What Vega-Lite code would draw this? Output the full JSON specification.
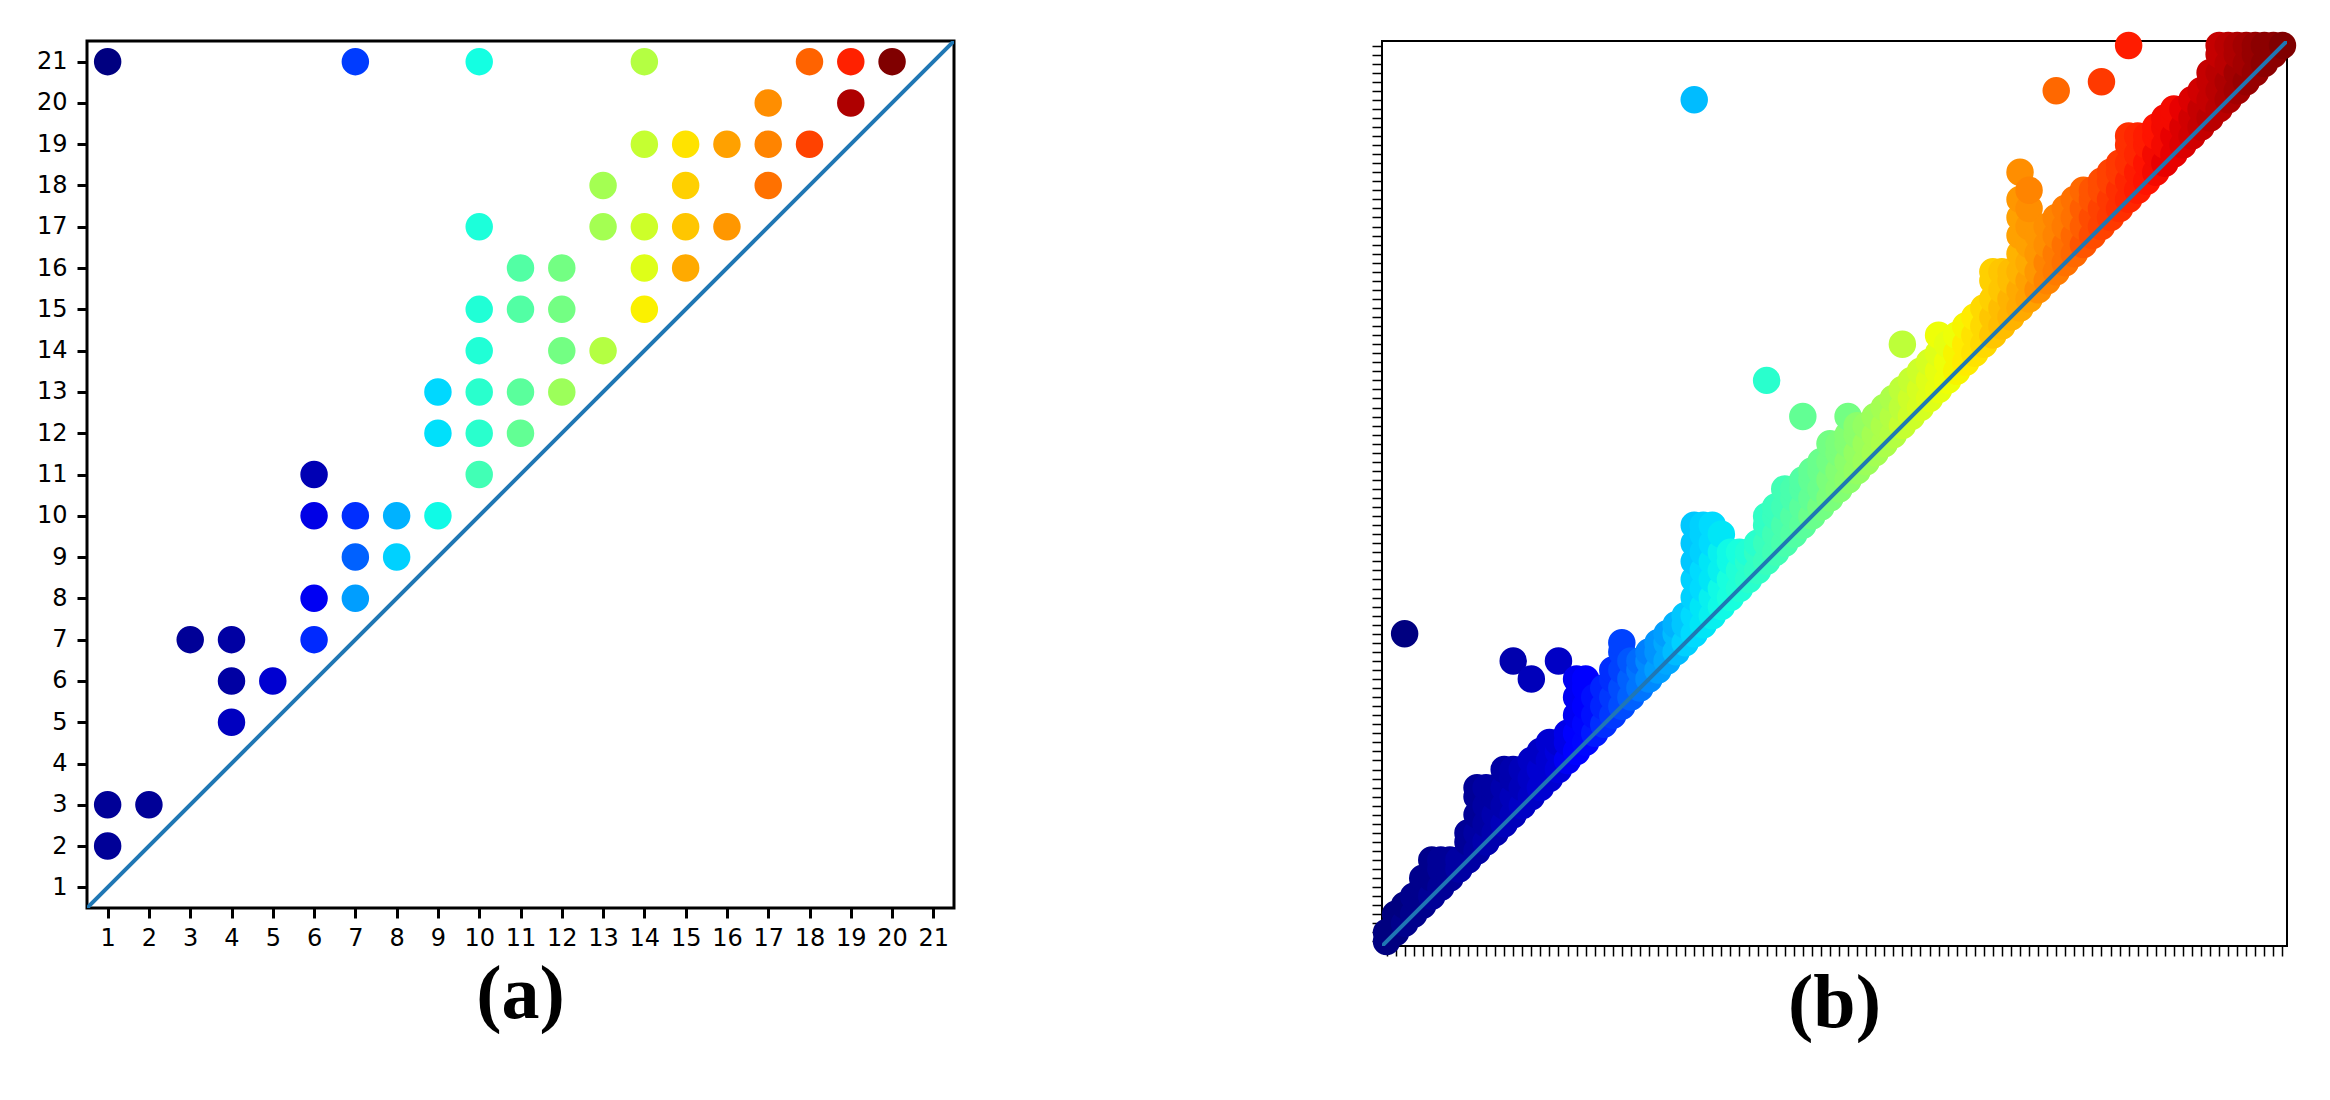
{
"$schema": "https://vega.github.io/schema/vega-lite/v6.json",
"background": "white",
"padding": {"left": 34, "top": 30, "right": 0, "bottom": 0},
"spacing": 414,
"config": {"view": {"stroke": "black"}, "axis": {"labelFont": "DejaVu Sans", "labelColor": "black", "tickColor": "black", "grid": false, "domain": false, "title": null}},
"datasets": {
"a": [
{"x":1,"y":21,"c":0},{"x":1,"y":3,"c":0.02},{"x":1,"y":2,"c":0.02},{"x":2,"y":3,"c":0.02},{"x":3,"y":7,"c":0.02},{"x":4,"y":7,"c":0.03},{"x":4,"y":6,"c":0.03},{"x":4,"y":5,"c":0.055},{"x":5,"y":6,"c":0.07},
{"x":6,"y":11,"c":0.045},{"x":6,"y":10,"c":0.088},{"x":6,"y":8,"c":0.1},{"x":6,"y":7,"c":0.165},{"x":7,"y":21,"c":0.184},{"x":7,"y":10,"c":0.17},{"x":7,"y":9,"c":0.22},{"x":7,"y":8,"c":0.28},
{"x":8,"y":10,"c":0.3},{"x":8,"y":9,"c":0.33},{"x":9,"y":13,"c":0.337},{"x":9,"y":12,"c":0.345},{"x":9,"y":10,"c":0.37},
{"x":10,"y":21,"c":0.375},{"x":10,"y":17,"c":0.385},{"x":10,"y":15,"c":0.39},{"x":10,"y":14,"c":0.39},{"x":10,"y":13,"c":0.4},{"x":10,"y":12,"c":0.4},{"x":10,"y":11,"c":0.43},
{"x":11,"y":16,"c":0.45},{"x":11,"y":15,"c":0.45},{"x":11,"y":13,"c":0.46},{"x":11,"y":12,"c":0.47},
{"x":12,"y":16,"c":0.49},{"x":12,"y":15,"c":0.49},{"x":12,"y":14,"c":0.49},{"x":12,"y":13,"c":0.54},
{"x":13,"y":18,"c":0.55},{"x":13,"y":17,"c":0.55},{"x":13,"y":14,"c":0.57},
{"x":14,"y":21,"c":0.57},{"x":14,"y":19,"c":0.59},{"x":14,"y":17,"c":0.6},{"x":14,"y":16,"c":0.62},{"x":14,"y":15,"c":0.655},
{"x":15,"y":19,"c":0.67},{"x":15,"y":18,"c":0.69},{"x":15,"y":17,"c":0.7},{"x":15,"y":16,"c":0.73},
{"x":16,"y":19,"c":0.74},{"x":16,"y":17,"c":0.75},{"x":17,"y":20,"c":0.76},{"x":17,"y":19,"c":0.77},{"x":17,"y":18,"c":0.79},
{"x":18,"y":21,"c":0.805},{"x":18,"y":19,"c":0.84},{"x":19,"y":21,"c":0.875},{"x":19,"y":20,"c":0.96},{"x":20,"y":21,"c":1}
],
"b": [
{"x":1,"y":1,"c":0},{"x":1,"y":2,"c":0},
{"x":2,"y":2,"c":0},{"x":2,"y":4,"c":0},
{"x":3,"y":3,"c":0.01},{"x":3,"y":5,"c":0},{"x":3,"y":35,"c":0},
{"x":4,"y":4,"c":0.01},{"x":4,"y":6,"c":0.01},
{"x":5,"y":5,"c":0.01},{"x":5,"y":7,"c":0.01},{"x":5,"y":8,"c":0.01},
{"x":6,"y":6,"c":0.02},{"x":6,"y":8,"c":0.01},{"x":6,"y":10,"c":0.01},
{"x":7,"y":7,"c":0.02},{"x":7,"y":9,"c":0.02},{"x":7,"y":10,"c":0.02},
{"x":8,"y":8,"c":0.02},{"x":8,"y":10,"c":0.02},
{"x":9,"y":9,"c":0.03},{"x":9,"y":10,"c":0.03},
{"x":10,"y":10,"c":0.03},{"x":10,"y":12,"c":0.02},{"x":10,"y":13,"c":0.02},
{"x":11,"y":11,"c":0.03},{"x":11,"y":13,"c":0.03},{"x":11,"y":15,"c":0.02},{"x":11,"y":17,"c":0.02},{"x":11,"y":18,"c":0.02},
{"x":12,"y":12,"c":0.04},{"x":12,"y":14,"c":0.03},{"x":12,"y":16,"c":0.03},{"x":12,"y":18,"c":0.03},
{"x":13,"y":13,"c":0.04},{"x":13,"y":15,"c":0.04},{"x":13,"y":17,"c":0.03},{"x":13,"y":18,"c":0.03},
{"x":14,"y":14,"c":0.05},{"x":14,"y":16,"c":0.04},{"x":14,"y":18,"c":0.04},{"x":14,"y":20,"c":0.03},
{"x":15,"y":15,"c":0.05},{"x":15,"y":17,"c":0.05},{"x":15,"y":19,"c":0.04},{"x":15,"y":20,"c":0.04},{"x":15,"y":32,"c":0.04},
{"x":16,"y":16,"c":0.06},{"x":16,"y":18,"c":0.05},{"x":16,"y":20,"c":0.05},
{"x":17,"y":17,"c":0.06},{"x":17,"y":19,"c":0.06},{"x":17,"y":21,"c":0.06},{"x":17,"y":30,"c":0.05},
{"x":18,"y":18,"c":0.07},{"x":18,"y":20,"c":0.07},{"x":18,"y":22,"c":0.06},
{"x":19,"y":19,"c":0.07},{"x":19,"y":21,"c":0.07},{"x":19,"y":23,"c":0.07},
{"x":20,"y":20,"c":0.08},{"x":20,"y":22,"c":0.08},{"x":20,"y":23,"c":0.07},{"x":20,"y":32,"c":0.06},
{"x":21,"y":21,"c":0.1},{"x":21,"y":23,"c":0.09},{"x":21,"y":24,"c":0.09},
{"x":22,"y":22,"c":0.11},{"x":22,"y":24,"c":0.11},{"x":22,"y":26,"c":0.1},{"x":22,"y":28,"c":0.1},{"x":22,"y":30,"c":0.1},
{"x":23,"y":23,"c":0.13},{"x":23,"y":25,"c":0.13},{"x":23,"y":27,"c":0.12},{"x":23,"y":29,"c":0.12},{"x":23,"y":30,"c":0.12},
{"x":24,"y":24,"c":0.15},{"x":24,"y":26,"c":0.14},{"x":24,"y":28,"c":0.14},
{"x":25,"y":25,"c":0.17},{"x":25,"y":27,"c":0.16},{"x":25,"y":29,"c":0.16},
{"x":26,"y":26,"c":0.18},{"x":26,"y":28,"c":0.18},{"x":26,"y":30,"c":0.17},{"x":26,"y":31,"c":0.17},
{"x":27,"y":27,"c":0.2},{"x":27,"y":29,"c":0.2},{"x":27,"y":31,"c":0.19},{"x":27,"y":33,"c":0.19},{"x":27,"y":34,"c":0.19},
{"x":28,"y":28,"c":0.22},{"x":28,"y":30,"c":0.22},{"x":28,"y":32,"c":0.21},
{"x":29,"y":29,"c":0.24},{"x":29,"y":31,"c":0.24},{"x":29,"y":32,"c":0.23},
{"x":30,"y":30,"c":0.26},{"x":30,"y":32,"c":0.26},{"x":30,"y":33,"c":0.25},
{"x":31,"y":31,"c":0.28},{"x":31,"y":33,"c":0.27},{"x":31,"y":34,"c":0.27},
{"x":32,"y":32,"c":0.29},{"x":32,"y":34,"c":0.29},{"x":32,"y":35,"c":0.28},
{"x":33,"y":33,"c":0.31},{"x":33,"y":35,"c":0.31},{"x":33,"y":36,"c":0.3},
{"x":34,"y":34,"c":0.33},{"x":34,"y":36,"c":0.32},{"x":34,"y":37,"c":0.32},
{"x":35,"y":35,"c":0.34},{"x":35,"y":37,"c":0.34},{"x":35,"y":39,"c":0.33},{"x":35,"y":41,"c":0.33},{"x":35,"y":43,"c":0.32},{"x":35,"y":45,"c":0.32},{"x":35,"y":47,"c":0.32},{"x":35,"y":94,"c":0.31},
{"x":36,"y":36,"c":0.35},{"x":36,"y":38,"c":0.35},{"x":36,"y":40,"c":0.34},{"x":36,"y":42,"c":0.34},{"x":36,"y":44,"c":0.33},{"x":36,"y":46,"c":0.33},{"x":36,"y":47,"c":0.33},
{"x":37,"y":37,"c":0.36},{"x":37,"y":39,"c":0.36},{"x":37,"y":41,"c":0.35},{"x":37,"y":43,"c":0.35},{"x":37,"y":45,"c":0.34},{"x":37,"y":47,"c":0.34},
{"x":38,"y":38,"c":0.37},{"x":38,"y":40,"c":0.37},{"x":38,"y":42,"c":0.36},{"x":38,"y":44,"c":0.36},{"x":38,"y":46,"c":0.35},
{"x":39,"y":39,"c":0.38},{"x":39,"y":41,"c":0.38},{"x":39,"y":43,"c":0.37},{"x":39,"y":44,"c":0.37},
{"x":40,"y":40,"c":0.39},{"x":40,"y":42,"c":0.39},{"x":40,"y":44,"c":0.38},
{"x":41,"y":41,"c":0.4},{"x":41,"y":43,"c":0.4},{"x":41,"y":44,"c":0.39},
{"x":42,"y":42,"c":0.41},{"x":42,"y":44,"c":0.41},{"x":42,"y":45,"c":0.4},
{"x":43,"y":43,"c":0.42},{"x":43,"y":45,"c":0.42},{"x":43,"y":47,"c":0.41},{"x":43,"y":48,"c":0.41},{"x":43,"y":63,"c":0.4},
{"x":44,"y":44,"c":0.43},{"x":44,"y":46,"c":0.43},{"x":44,"y":48,"c":0.42},{"x":44,"y":49,"c":0.42},
{"x":45,"y":45,"c":0.44},{"x":45,"y":47,"c":0.44},{"x":45,"y":49,"c":0.43},{"x":45,"y":51,"c":0.43},
{"x":46,"y":46,"c":0.45},{"x":46,"y":48,"c":0.45},{"x":46,"y":50,"c":0.44},{"x":46,"y":51,"c":0.44},
{"x":47,"y":47,"c":0.46},{"x":47,"y":49,"c":0.46},{"x":47,"y":51,"c":0.45},{"x":47,"y":52,"c":0.45},{"x":47,"y":59,"c":0.47},
{"x":48,"y":48,"c":0.48},{"x":48,"y":50,"c":0.47},{"x":48,"y":52,"c":0.47},{"x":48,"y":53,"c":0.47},
{"x":49,"y":49,"c":0.49},{"x":49,"y":51,"c":0.48},{"x":49,"y":53,"c":0.48},{"x":49,"y":54,"c":0.48},
{"x":50,"y":50,"c":0.5},{"x":50,"y":52,"c":0.5},{"x":50,"y":54,"c":0.49},{"x":50,"y":56,"c":0.49},
{"x":51,"y":51,"c":0.51},{"x":51,"y":53,"c":0.51},{"x":51,"y":55,"c":0.5},{"x":51,"y":56,"c":0.5},
{"x":52,"y":52,"c":0.52},{"x":52,"y":54,"c":0.52},{"x":52,"y":56,"c":0.51},{"x":52,"y":57,"c":0.51},{"x":52,"y":59,"c":0.49},
{"x":53,"y":53,"c":0.53},{"x":53,"y":55,"c":0.53},{"x":53,"y":57,"c":0.52},{"x":53,"y":58,"c":0.52},
{"x":54,"y":54,"c":0.54},{"x":54,"y":56,"c":0.54},{"x":54,"y":58,"c":0.53},
{"x":55,"y":55,"c":0.55},{"x":55,"y":57,"c":0.55},{"x":55,"y":59,"c":0.54},
{"x":56,"y":56,"c":0.56},{"x":56,"y":58,"c":0.56},{"x":56,"y":60,"c":0.55},
{"x":57,"y":57,"c":0.57},{"x":57,"y":59,"c":0.57},{"x":57,"y":61,"c":0.56},
{"x":58,"y":58,"c":0.59},{"x":58,"y":60,"c":0.58},{"x":58,"y":62,"c":0.58},{"x":58,"y":67,"c":0.58},
{"x":59,"y":59,"c":0.6},{"x":59,"y":61,"c":0.6},{"x":59,"y":63,"c":0.59},
{"x":60,"y":60,"c":0.61},{"x":60,"y":62,"c":0.61},{"x":60,"y":64,"c":0.6},
{"x":61,"y":61,"c":0.62},{"x":61,"y":63,"c":0.62},{"x":61,"y":65,"c":0.61},
{"x":62,"y":62,"c":0.63},{"x":62,"y":64,"c":0.63},{"x":62,"y":66,"c":0.62},{"x":62,"y":68,"c":0.64},
{"x":63,"y":63,"c":0.64},{"x":63,"y":65,"c":0.64},{"x":63,"y":67,"c":0.63},
{"x":64,"y":64,"c":0.65},{"x":64,"y":66,"c":0.65},{"x":64,"y":68,"c":0.64},
{"x":65,"y":65,"c":0.66},{"x":65,"y":67,"c":0.66},{"x":65,"y":69,"c":0.65},
{"x":66,"y":66,"c":0.67},{"x":66,"y":68,"c":0.67},{"x":66,"y":70,"c":0.66},
{"x":67,"y":67,"c":0.68},{"x":67,"y":69,"c":0.68},{"x":67,"y":71,"c":0.68},
{"x":68,"y":68,"c":0.7},{"x":68,"y":70,"c":0.7},{"x":68,"y":72,"c":0.69},{"x":68,"y":74,"c":0.69},{"x":68,"y":75,"c":0.69},
{"x":69,"y":69,"c":0.71},{"x":69,"y":71,"c":0.71},{"x":69,"y":73,"c":0.7},{"x":69,"y":75,"c":0.7},
{"x":70,"y":70,"c":0.72},{"x":70,"y":72,"c":0.72},{"x":70,"y":74,"c":0.71},{"x":70,"y":75,"c":0.71},
{"x":71,"y":71,"c":0.73},{"x":71,"y":73,"c":0.73},{"x":71,"y":75,"c":0.72},{"x":71,"y":77,"c":0.72},{"x":71,"y":79,"c":0.74},{"x":71,"y":81,"c":0.74},{"x":71,"y":83,"c":0.75},{"x":71,"y":86,"c":0.76},
{"x":72,"y":72,"c":0.74},{"x":72,"y":74,"c":0.74},{"x":72,"y":76,"c":0.73},{"x":72,"y":78,"c":0.74},{"x":72,"y":80,"c":0.75},{"x":72,"y":82,"c":0.76},{"x":72,"y":84,"c":0.77},
{"x":73,"y":73,"c":0.76},{"x":73,"y":75,"c":0.75},{"x":73,"y":77,"c":0.75},{"x":73,"y":79,"c":0.75},
{"x":74,"y":74,"c":0.77},{"x":74,"y":76,"c":0.77},{"x":74,"y":78,"c":0.76},{"x":74,"y":80,"c":0.76},
{"x":75,"y":75,"c":0.78},{"x":75,"y":77,"c":0.78},{"x":75,"y":79,"c":0.77},{"x":75,"y":81,"c":0.77},{"x":75,"y":95,"c":0.8},
{"x":76,"y":76,"c":0.79},{"x":76,"y":78,"c":0.79},{"x":76,"y":80,"c":0.78},{"x":76,"y":82,"c":0.78},
{"x":77,"y":77,"c":0.8},{"x":77,"y":79,"c":0.8},{"x":77,"y":81,"c":0.79},{"x":77,"y":83,"c":0.79},
{"x":78,"y":78,"c":0.82},{"x":78,"y":80,"c":0.81},{"x":78,"y":82,"c":0.81},{"x":78,"y":84,"c":0.8},
{"x":79,"y":79,"c":0.83},{"x":79,"y":81,"c":0.83},{"x":79,"y":83,"c":0.82},{"x":79,"y":84,"c":0.82},
{"x":80,"y":80,"c":0.84},{"x":80,"y":82,"c":0.84},{"x":80,"y":84,"c":0.83},{"x":80,"y":85,"c":0.83},{"x":80,"y":96,"c":0.85},
{"x":81,"y":81,"c":0.85},{"x":81,"y":83,"c":0.85},{"x":81,"y":85,"c":0.84},{"x":81,"y":86,"c":0.84},
{"x":82,"y":82,"c":0.86},{"x":82,"y":84,"c":0.86},{"x":82,"y":86,"c":0.85},{"x":82,"y":87,"c":0.85},
{"x":83,"y":83,"c":0.87},{"x":83,"y":85,"c":0.87},{"x":83,"y":87,"c":0.86},{"x":83,"y":89,"c":0.86},{"x":83,"y":90,"c":0.86},{"x":83,"y":100,"c":0.88},
{"x":84,"y":84,"c":0.88},{"x":84,"y":86,"c":0.88},{"x":84,"y":88,"c":0.87},{"x":84,"y":90,"c":0.87},
{"x":85,"y":85,"c":0.89},{"x":85,"y":87,"c":0.89},{"x":85,"y":89,"c":0.88},{"x":85,"y":90,"c":0.88},
{"x":86,"y":86,"c":0.9},{"x":86,"y":88,"c":0.9},{"x":86,"y":90,"c":0.89},{"x":86,"y":91,"c":0.89},
{"x":87,"y":87,"c":0.91},{"x":87,"y":89,"c":0.9},{"x":87,"y":91,"c":0.9},{"x":87,"y":92,"c":0.9},
{"x":88,"y":88,"c":0.91},{"x":88,"y":90,"c":0.91},{"x":88,"y":92,"c":0.9},{"x":88,"y":93,"c":0.9},
{"x":89,"y":89,"c":0.92},{"x":89,"y":91,"c":0.92},{"x":89,"y":93,"c":0.91},
{"x":90,"y":90,"c":0.93},{"x":90,"y":92,"c":0.93},{"x":90,"y":94,"c":0.92},
{"x":91,"y":91,"c":0.94},{"x":91,"y":93,"c":0.94},{"x":91,"y":95,"c":0.93},
{"x":92,"y":92,"c":0.95},{"x":92,"y":94,"c":0.94},{"x":92,"y":96,"c":0.94},{"x":92,"y":97,"c":0.94},
{"x":93,"y":93,"c":0.95},{"x":93,"y":95,"c":0.95},{"x":93,"y":97,"c":0.95},{"x":93,"y":99,"c":0.94},{"x":93,"y":100,"c":0.94},
{"x":94,"y":94,"c":0.96},{"x":94,"y":96,"c":0.96},{"x":94,"y":98,"c":0.95},{"x":94,"y":100,"c":0.95},
{"x":95,"y":95,"c":0.97},{"x":95,"y":97,"c":0.97},{"x":95,"y":99,"c":0.96},{"x":95,"y":100,"c":0.96},
{"x":96,"y":96,"c":0.98},{"x":96,"y":98,"c":0.97},{"x":96,"y":100,"c":0.97},
{"x":97,"y":97,"c":0.98},{"x":97,"y":99,"c":0.98},{"x":97,"y":100,"c":0.98},
{"x":98,"y":98,"c":0.99},{"x":98,"y":100,"c":0.99},
{"x":99,"y":99,"c":0.99},{"x":99,"y":100,"c":0.99},
{"x":100,"y":100,"c":1}
],
"da": [{"x":0.5,"y":0.5},{"x":21.5,"y":21.5}],
"db": [{"x":0.5,"y":0.5},{"x":100.5,"y":100.5}]
},
"hconcat": [
{
"width": 867, "height": 867,
"view": {"stroke": "black", "strokeWidth": 3},
"title": {"text": "(a)", "orient": "bottom", "frame": "group", "anchor": "middle", "font": "Liberation Serif", "fontWeight": "bold", "fontSize": 76, "color": "black", "offset": 8},
"layer": [
{
"data": {"name": "a"},
"mark": {"type": "circle", "size": 755, "opacity": 1},
"encoding": {
"x": {"field": "x", "type": "quantitative", "scale": {"domain": [0.5, 21.5], "nice": false, "zero": false},
 "axis": {"values": [1,2,3,4,5,6,7,8,9,10,11,12,13,14,15,16,17,18,19,20,21], "format": "d", "labelFontSize": 24, "tickSize": 10, "tickWidth": 3, "labelPadding": 8, "labelOverlap": false, "labelFlush": false}},
"y": {"field": "y", "type": "quantitative", "scale": {"domain": [0.5, 21.5], "nice": false, "zero": false},
 "axis": {"values": [1,2,3,4,5,6,7,8,9,10,11,12,13,14,15,16,17,18,19,20,21], "format": "d", "labelFontSize": 24, "tickSize": 10, "tickWidth": 3, "labelPadding": 10, "labelOverlap": false, "labelFlush": false}},
"color": {"field": "c", "type": "quantitative", "legend": null,
 "scale": {"type": "linear", "domain": [0,0.11,0.125,0.34,0.35,0.375,0.64,0.65,0.66,0.89,0.91,1], "range": ["#000080","#0000ff","#0000ff","#00dbff","#00e6f7","#14ffe2","#eeff08","#f7f500","#ffec00","#ff1300","#e80000","#800000"], "interpolate": "rgb"}}
}
},
{
"data": {"name": "da"},
"mark": {"type": "line", "color": "#1f77b4", "strokeWidth": 4, "clip": true},
"encoding": {"x": {"field": "x", "type": "quantitative"}, "y": {"field": "y", "type": "quantitative"}}
}
]
},
{
"width": 905, "height": 905,
"view": {"stroke": "black", "strokeWidth": 2},
"title": {"text": "(b)", "orient": "bottom", "frame": "group", "anchor": "middle", "font": "Liberation Serif", "fontWeight": "bold", "fontSize": 76, "color": "black", "offset": 10},
"layer": [
{
"data": {"name": "b"},
"mark": {"type": "circle", "size": 755, "opacity": 1},
"encoding": {
"x": {"field": "x", "type": "quantitative", "scale": {"domain": [0.5, 100.5], "nice": false, "zero": false},
 "axis": {"tickCount": 100, "labels": false, "tickSize": 10, "tickWidth": 1.5}},
"y": {"field": "y", "type": "quantitative", "scale": {"domain": [0.5, 100.5], "nice": false, "zero": false},
 "axis": {"tickCount": 100, "labels": false, "tickSize": 10, "tickWidth": 1.5}},
"color": {"field": "c", "type": "quantitative", "legend": null,
 "scale": {"type": "linear", "domain": [0,0.11,0.125,0.34,0.35,0.375,0.64,0.65,0.66,0.89,0.91,1], "range": ["#000080","#0000ff","#0000ff","#00dbff","#00e6f7","#14ffe2","#eeff08","#f7f500","#ffec00","#ff1300","#e80000","#800000"], "interpolate": "rgb"}}
}
},
{
"data": {"name": "db"},
"mark": {"type": "line", "color": "#1f77b4", "strokeWidth": 4, "clip": true},
"encoding": {"x": {"field": "x", "type": "quantitative"}, "y": {"field": "y", "type": "quantitative"}}
}
]
}
]
}
